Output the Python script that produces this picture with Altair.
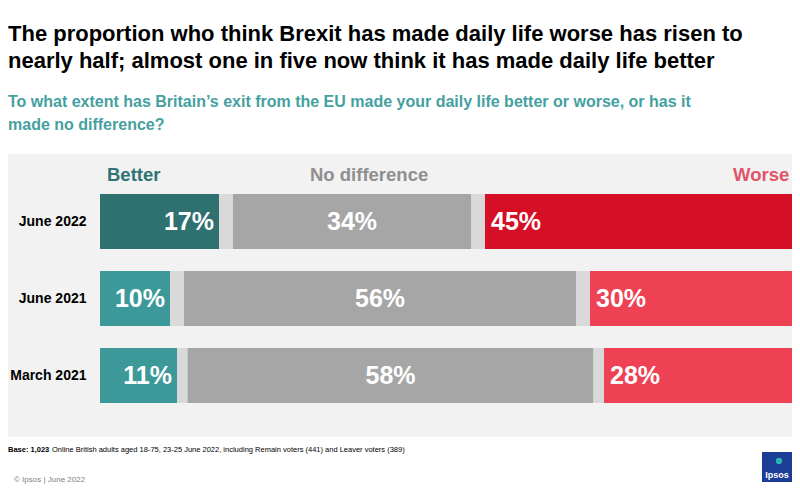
import altair as alt
import pandas as pd

periods = ["June 2022", "June 2021", "March 2021"]
better = [17, 10, 11]
gap_a = [2, 2, 1.5]
no_diff = [34, 56, 58]
gap_b = [2, 2, 1.5]
worse = [45, 30, 28]

segments = ["Better", "Gap A", "No difference", "Gap B", "Worse"]
series = [better, gap_a, no_diff, gap_b, worse]

rows = []
for i, p in enumerate(periods):
    for k, (s, vals) in enumerate(zip(segments, series)):
        key = s + (" 2022" if p == "June 2022" else "")
        if s.startswith("Gap"):
            key = "Gap"
        rows.append({"period": p, "segment": s, "order": k, "value": vals[i],
                     "key": key, "label": f"{vals[i]:g}%"})
df = pd.DataFrame(rows)

color_domain = ["Better 2022", "Better", "Gap", "No difference 2022", "No difference",
                "Worse 2022", "Worse"]
color_range = ["#2f7070", "#3d9999", "#d9d9d9", "#a6a6a6", "#a6a6a6", "#d50f25", "#ee4154"]

FONT = "Liberation Sans"

x_scale = alt.Scale(domain=[0, 98.86], nice=False, zero=False)
y_enc = alt.Y("period:N", sort=periods, title=None,
              scale=alt.Scale(paddingInner=0.286, paddingOuter=0.143),
              axis=alt.Axis(domain=False, ticks=False, labelFontSize=14,
                            labelFontWeight="bold", labelColor="#000000",
                            labelPadding=14, labelFont=FONT, zindex=2))

base = alt.Chart(df).transform_stack(
    stack="value", groupby=["period"], as_=["x0", "x1"],
    sort=[alt.SortField("order", order="ascending")]
).transform_calculate(mid="(datum.x0 + datum.x1) / 2")

bars = base.mark_bar(clip=True).encode(
    x=alt.X("x0:Q", scale=x_scale, axis=None, title=None),
    x2="x1:Q",
    y=y_enc,
    color=alt.Color("key:N", scale=alt.Scale(domain=color_domain, range=color_range), legend=None),
)

lbl_kw = dict(font=FONT, fontSize=25, fontWeight="bold", color="#ffffff", baseline="middle")
lbl_better = base.transform_filter("datum.segment == 'Better'").mark_text(
    align="right", dx=-5, **lbl_kw).encode(
    x=alt.X("x1:Q", scale=x_scale), y=alt.Y("period:N", sort=periods), text="label:N")
lbl_mid = base.transform_filter("datum.segment == 'No difference'").mark_text(
    align="center", **lbl_kw).encode(
    x=alt.X("mid:Q", scale=x_scale), y=alt.Y("period:N", sort=periods), text="label:N")
lbl_worse = base.transform_filter("datum.segment == 'Worse'").mark_text(
    align="left", dx=6, **lbl_kw).encode(
    x=alt.X("x0:Q", scale=x_scale), y=alt.Y("period:N", sort=periods), text="label:N")

panel = alt.Chart(pd.DataFrame({"a": [0]})).mark_rect(color="#f2f2f2").encode(
    x=alt.value(-92), x2=alt.value(692), y=alt.value(-29), y2=alt.value(254))


def note(text, x, y, size, color, weight="normal", align="left"):
    return alt.Chart(pd.DataFrame({"t": [text]})).mark_text(
        font=FONT, fontSize=size, fontWeight=weight, color=color, align=align,
        baseline="alphabetic").encode(text="t:N", x=alt.value(x), y=alt.value(y))


title1 = note("The proportion who think Brexit has made daily life worse has risen to",
              -92, -142, 22, "#000000", "bold")
title2 = note("nearly half; almost one in five now think it has made daily life better",
              -92, -115, 22, "#000000", "bold")
sub1 = note("To what extent has Britain\u2019s exit from the EU made your daily life better or worse, or has it",
            -92, -76, 16, "#45a0a0", "bold")
sub2 = note("made no difference?", -92, -53, 16, "#45a0a0", "bold")

h_better = note("Better", 7, -2, 18.5, "#2f7373", "bold")
h_nodiff = note("No difference", 210, -2, 18.5, "#8f8f8f", "bold")
h_worse = note("Worse", 633, -2, 18.5, "#e0556a", "bold")

base1 = note("Base: 1,023", -92, 269, 7.5, "#000000", "bold")
base2 = note("Online British adults aged 18-75, 23-25 June 2022, including Remain  voters (441) and Leaver voters (389)",
             -48, 269, 7.5, "#000000")
copy = note("\u00a9 Ipsos |  June 2022", -86, 299, 8, "#7f7f7f")

logo = alt.Chart(pd.DataFrame({"a": [0]})).mark_rect(color="#1b3d96").encode(
    x=alt.value(662), x2=alt.value(692), y=alt.value(269), y2=alt.value(299))
logo_dot = alt.Chart(pd.DataFrame({"a": [0]})).mark_point(
    filled=True, color="#2bb3b1", size=40, opacity=1).encode(
    x=alt.value(679), y=alt.value(278))
logo_txt = note("Ipsos", 677, 295, 9, "#ffffff", "bold", align="center")

chart = alt.layer(
    panel, bars, lbl_better, lbl_mid, lbl_worse,
    title1, title2, sub1, sub2, h_better, h_nodiff, h_worse,
    base1, base2, copy, logo, logo_dot, logo_txt,
).properties(
    width=692, height=231,
    autosize=alt.AutoSizeParams(type="none"),
    padding={"left": 92, "top": 175, "right": 0, "bottom": 78},
    background="#ffffff",
).configure_view(stroke=None)

chart.save("out.html", embed_options={"renderer": "svg", "actions": False})
